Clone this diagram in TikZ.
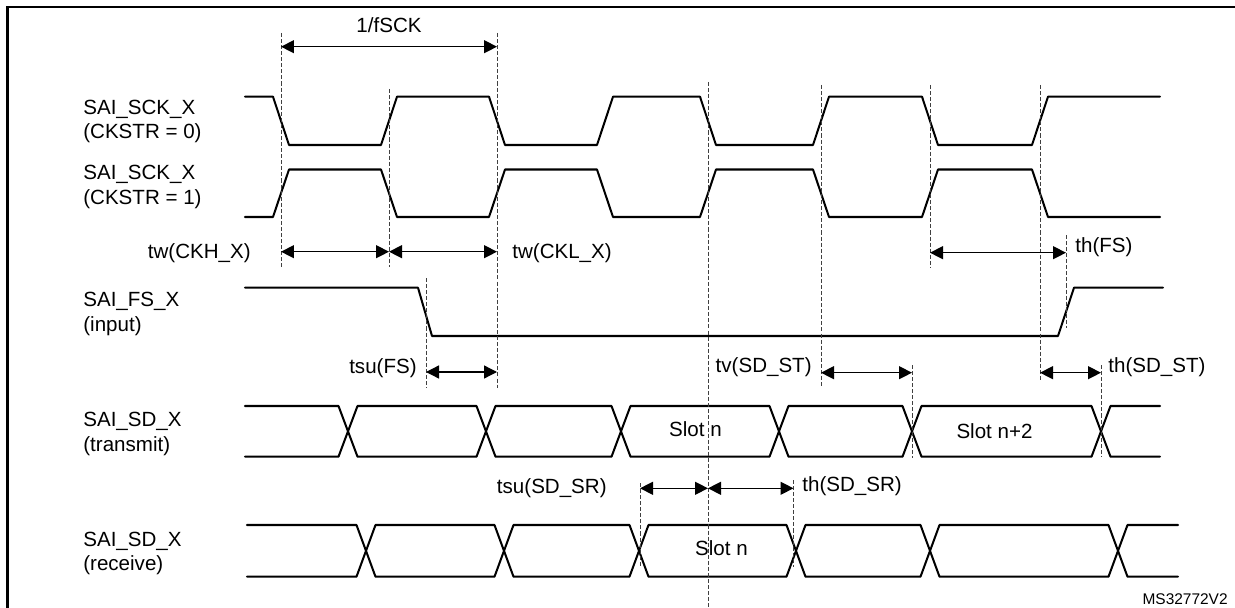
\documentclass[tikz,border=0pt]{standalone}
\usepackage{fontspec}
\setmainfont{Liberation Sans}
\usepackage{tikz}
\usetikzlibrary{arrows.meta}

\begin{document}
\begin{tikzpicture}[
  x=0.02cm, y=-0.02cm,
  wave/.style={line width=1.15pt, line join=round, line cap=round},
  guide/.style={black!75, line width=0.55pt, dash pattern=on 2.3pt off 1.15pt},
  dim/.style={line width=0.75pt,
              {Triangle[length=0.26cm, width=0.26cm]}-{Triangle[length=0.26cm, width=0.26cm]}},
  lbl/.style={font=\fontsize{11.7}{14}\selectfont, inner sep=0pt},
]
  \useasboundingbox (0,0) rectangle (1235,608);
  % frame
  \draw[line width=1.4pt] (7.5,608) -- (7.5,7) -- (1235,7);

  % --- signal names ---
  \foreach \n/\y/\ta/\tb in {sck0/114.3/SAI\_SCK\_X/(CKSTR = 0), sck1/179.8/SAI\_SCK\_X/(CKSTR = 1),
                             fs/306.7/SAI\_FS\_X/(input), sdt/426.7/SAI\_SD\_X/(transmit),
                             sdr/546.3/SAI\_SD\_X/(receive)}{
    \node[lbl, anchor=base west] (\n-a) at (83,\y) {\ta};
    \node[lbl, anchor=base west] (\n-b) at (83,\y+24.5) {\tb};
  }

  % --- clocks (CKSTR = 0 starts high, CKSTR = 1 starts low) ---
  \foreach \ya/\yb in {96.7/145, 217/169.5}
    \draw[wave] (245,\ya) -- (273,\ya) -- (289,\yb) -- (381,\yb) -- (397,\ya) -- (489,\ya)
      -- (505,\yb) -- (597,\yb) -- (613,\ya) -- (700,\ya) -- (716,\yb) -- (813,\yb)
      -- (829,\ya) -- (922,\ya) -- (938,\yb) -- (1032,\yb) -- (1048,\ya) -- (1160,\ya);

  % --- frame sync ---
  \draw[wave] (245,287.7) -- (418,287.7) -- (432,336) -- (1058,336) -- (1074,287.7) -- (1163,287.7);

  % --- data transmit / receive ---
  \foreach \ya/\yb in {406/456.7, 456.7/406}
    \draw[wave] (245,\ya) -- (338.5,\ya) -- (357.5,\yb) -- (476.5,\yb) -- (495.5,\ya)
      -- (611.5,\ya) -- (630.5,\yb) -- (769.5,\yb) -- (788.5,\ya) -- (902.5,\ya)
      -- (921.5,\yb) -- (1091.5,\yb) -- (1110.5,\ya) -- (1160,\ya);
  \foreach \ya/\yb in {525/576.7, 576.7/525}
    \draw[wave] (247,\ya) -- (356.5,\ya) -- (375.5,\yb) -- (494.5,\yb) -- (513.5,\ya)
      -- (629.5,\ya) -- (648.5,\yb) -- (786.5,\yb) -- (805.5,\ya) -- (920.5,\ya)
      -- (939.5,\yb) -- (1108.5,\yb) -- (1127.5,\ya) -- (1178,\ya);

  % --- dashed reference lines ---
  \foreach \x/\ya/\yb in {281/33/267, 389/89/267, 497/33/388, 708/82/608, 821/85/387,
                          930/85/268, 1040/85/380, 426/278/388, 1066/235/328,
                          912/365/458, 1101/365/457, 640/483/567, 793.5/480/567}
    \draw[guide] (\x,\ya) -- (\x,\yb);

  % --- timing arrows ---
  \foreach \n/\xa/\xb/\y in {fsck/281/497/46.7, ckh/281/389/251.7, ckl/389/497/251.7,
                             thfs/930/1066/252.7, tsufs/426/497/372, tvst/821/912/372.7,
                             thst/1040/1101/372.7, tsusr/640/708/488.3, thsr/708/793.5/488.3}{
    \coordinate (\n-l) at (\xa,\y);
    \coordinate (\n-r) at (\xb,\y);
    \draw[dim] (\n-l) -- (\n-r);
  }

  \node[lbl, anchor=base] (fsck) at (389,33) {1/fSCK};
  \node[lbl, anchor=base east] (ckh) at (251,258) {tw(CKH\_X)};
  \node[lbl, anchor=base west] (ckl) at (512,258) {tw(CKL\_X)};
  \node[lbl, anchor=base west] (thfs) at (1075,253) {th(FS)};
  \node[lbl, anchor=base east] (tsufs) at (417,373) {tsu(FS)};
  \node[lbl, anchor=base east] (tvst) at (812,372) {tv(SD\_ST)};
  \node[lbl, anchor=base west] (thst) at (1108,372) {th(SD\_ST)};
  \node[lbl, anchor=base east] (tsusr) at (607,493) {tsu(SD\_SR)};
  \node[lbl, anchor=base west] (thsr) at (802,491.7) {th(SD\_SR)};
  \node[lbl, anchor=base] (slotn) at (695.5,436.7) {Slot n};
  \node[lbl, anchor=base] (slotn2) at (994.5,438) {Slot n+2};
  \node[lbl, anchor=base] (slotr) at (721.5,555.7) {Slot n};
  \node[lbl, font=\fontsize{8.8}{10}\selectfont, anchor=base east] (ref) at (1228,604) {MS32772V2};
\end{tikzpicture}
\end{document}
